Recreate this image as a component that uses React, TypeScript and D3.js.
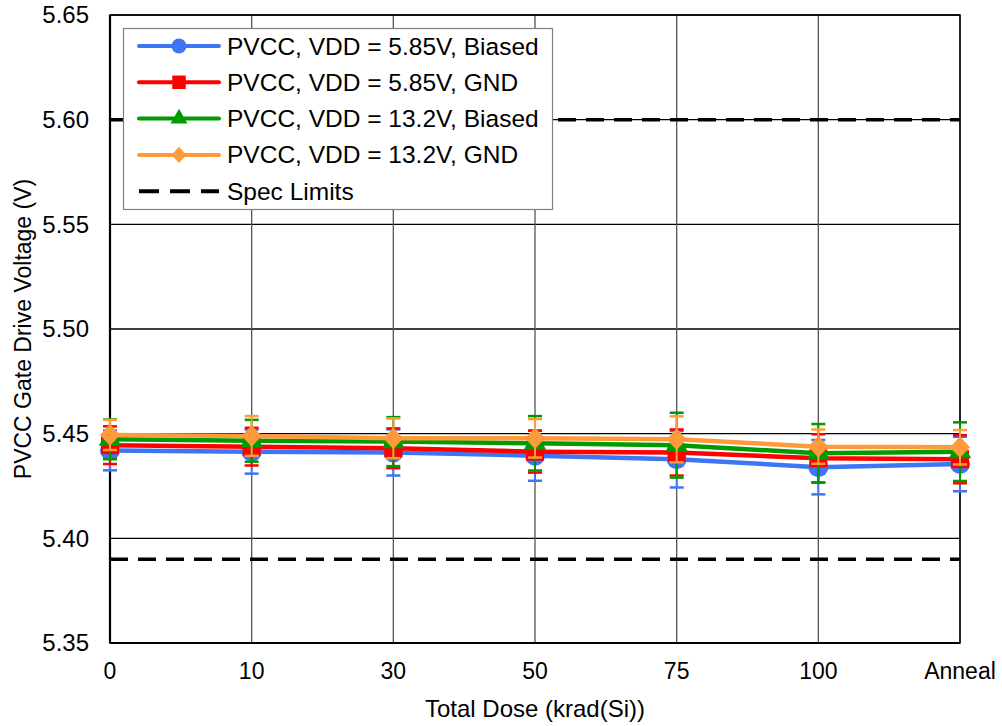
import React from "react";
import * as d3 from "d3";

const categories = ["0", "10", "30", "50", "75", "100", "Anneal"];
const yTicks = [5.35, 5.4, 5.45, 5.5, 5.55, 5.6, 5.65];

const blueVals = [5.442, 5.4414, 5.441, 5.4395, 5.4378, 5.434, 5.4355];
const blueErr = [0.0095, 0.0105, 0.011, 0.012, 0.0135, 0.013, 0.013];
const redVals = [5.4445, 5.4438, 5.443, 5.4414, 5.441, 5.4382, 5.4378];
const redErr = [0.009, 0.009, 0.0095, 0.01, 0.011, 0.0115, 0.0115];
const greenVals = [5.4473, 5.4466, 5.4462, 5.4454, 5.4445, 5.4406, 5.4414];
const greenErr = [0.0095, 0.01, 0.0117, 0.013, 0.0155, 0.014, 0.014];
const orangeVals = [5.4494, 5.4489, 5.4478, 5.4478, 5.4473, 5.4438, 5.4435];
const orangeErr = [0.0072, 0.0095, 0.0095, 0.0092, 0.011, 0.0082, 0.0082];

const specLimits = [5.6, 5.39];

const seriesNames = [
  "PVCC, VDD = 5.85V, Biased",
  "PVCC, VDD = 5.85V, GND",
  "PVCC, VDD = 13.2V, Biased",
  "PVCC, VDD = 13.2V, GND",
];
const specName = "Spec Limits";

const series = [
  { name: seriesNames[0], vals: blueVals, err: blueErr, color: "#3D75F5", shape: "circle" },
  { name: seriesNames[1], vals: redVals, err: redErr, color: "#FF0000", shape: "square" },
  { name: seriesNames[2], vals: greenVals, err: greenErr, color: "#009B00", shape: "triangle" },
  { name: seriesNames[3], vals: orangeVals, err: orangeErr, color: "#FF9A3A", shape: "diamond" },
];

const W = 1002;
const H = 726;
const M = { left: 110, right: 960, top: 15, bottom: 643 };
const FONT = "'Liberation Sans', Arial, sans-serif";

function Marker({ shape, x, y, size, color }: { shape: string; x: number; y: number; size: number; color: string }) {
  const r = size / 2;
  if (shape === "circle") return <circle cx={x} cy={y} r={r} fill={color} />;
  if (shape === "square") return <rect x={x - r * 0.9} y={y - r * 0.9} width={r * 1.8} height={r * 1.8} fill={color} />;
  if (shape === "triangle") {
    const s = d3.symbol().type(d3.symbolTriangle).size(size * size * 0.55)();
    return <path d={s || ""} transform={`translate(${x},${y})`} fill={color} />;
  }
  return <path d={`M${x},${y - r * 1.08}L${x + r},${y}L${x},${y + r * 1.08}L${x - r},${y}Z`} fill={color} />;
}

export default function App() {
  const x = d3.scalePoint<string>().domain(categories).range([M.left, M.right]).padding(0);
  const y = d3.scaleLinear().domain([5.35, 5.65]).range([M.bottom, M.top]);
  const line = d3
    .line<number>()
    .x((_, i) => x(categories[i]) as number)
    .y((d) => y(d));

  const legendRows = [...series.map((s) => s.name), specName];

  return (
    <svg width={W} height={H} style={{ position: "absolute", left: 0, top: 0, background: "#fff" }} fontFamily={FONT}>
      <rect x={0} y={0} width={W} height={H} fill="#fff" />
      {/* horizontal gridlines */}
      {yTicks.map((t) => (
        <line key={"h" + t} x1={M.left} x2={M.right} y1={y(t)} y2={y(t)} stroke="#000" strokeWidth={1.3} />
      ))}
      {/* vertical gridlines */}
      {categories.map((c) => (
        <line key={"v" + c} x1={x(c)} x2={x(c)} y1={M.top} y2={M.bottom} stroke="#555" strokeWidth={1.3} />
      ))}
      {/* plot frame */}
      <rect x={M.left} y={M.top} width={M.right - M.left} height={M.bottom - M.top} fill="none" stroke="#000" strokeWidth={1.5} />
      <line x1={M.left} x2={M.left} y1={M.top} y2={M.bottom} stroke="#000" strokeWidth={2.2} />
      <line x1={M.left} x2={M.right} y1={M.bottom} y2={M.bottom} stroke="#000" strokeWidth={2.2} />

      {/* spec limits */}
      {specLimits.map((s) => (
        <line key={"s" + s} x1={M.left} x2={M.right} y1={y(s)} y2={y(s)} stroke="#000" strokeWidth={3.5} strokeDasharray="18 10" />
      ))}

      {/* series */}
      {series.map((s) => (
        <g key={s.name}>
          <path d={line(s.vals) || ""} fill="none" stroke={s.color} strokeWidth={4.5} />
          {s.vals.map((v, i) => {
            const cx = x(categories[i]) as number;
            return (
              <g key={i}>
                <line x1={cx} x2={cx} y1={y(v - s.err[i])} y2={y(v + s.err[i])} stroke={s.color} strokeWidth={2} />
                <line x1={cx - 7} x2={cx + 7} y1={y(v - s.err[i])} y2={y(v - s.err[i])} stroke={s.color} strokeWidth={2.5} />
                <line x1={cx - 7} x2={cx + 7} y1={y(v + s.err[i])} y2={y(v + s.err[i])} stroke={s.color} strokeWidth={2.5} />
                <Marker shape={s.shape} x={cx} y={y(v)} size={20} color={s.color} />
              </g>
            );
          })}
        </g>
      ))}

      {/* y tick labels */}
      {yTicks.map((t) => (
        <text key={"yl" + t} x={89} y={y(t)} dy="0.35em" textAnchor="end" fontSize={24} fill="#000">
          {t.toFixed(2)}
        </text>
      ))}
      {/* x tick labels */}
      {categories.map((c) => (
        <text key={"xl" + c} x={x(c) as number} y={671} dy="0.35em" textAnchor="middle" fontSize={23} fill="#000">
          {c}
        </text>
      ))}
      {/* axis titles */}
      <text x={535} y={709} dy="0.35em" textAnchor="middle" fontSize={24} fill="#000">
        Total Dose (krad(Si))
      </text>
      <text
        transform={`translate(23,${(M.top + M.bottom) / 2}) rotate(-90)`}
        dy="0.35em"
        textAnchor="middle"
        fontSize={23}
        fill="#000"
      >
        PVCC Gate Drive Voltage (V)
      </text>

      {/* legend */}
      <g>
        <rect x={123.5} y={28.5} width={429} height={181} fill="#fff" stroke="#808080" strokeWidth={1.2} />
        {legendRows.map((name, i) => {
          const ly = 46 + i * 36.3;
          const s = series[i];
          return (
            <g key={"lg" + i}>
              {s ? (
                <>
                  <line x1={139} x2={219} y1={ly} y2={ly} stroke={s.color} strokeWidth={4} strokeLinecap="round" />
                  <Marker shape={s.shape} x={179} y={ly} size={15} color={s.color} />
                </>
              ) : (
                <line x1={139} x2={219} y1={ly} y2={ly} stroke="#000" strokeWidth={4} strokeDasharray="20 11" />
              )}
              <text x={227} y={ly} dy="0.35em" fontSize={24.5} fill="#000">
                {name}
              </text>
            </g>
          );
        })}
      </g>
    </svg>
  );
}
